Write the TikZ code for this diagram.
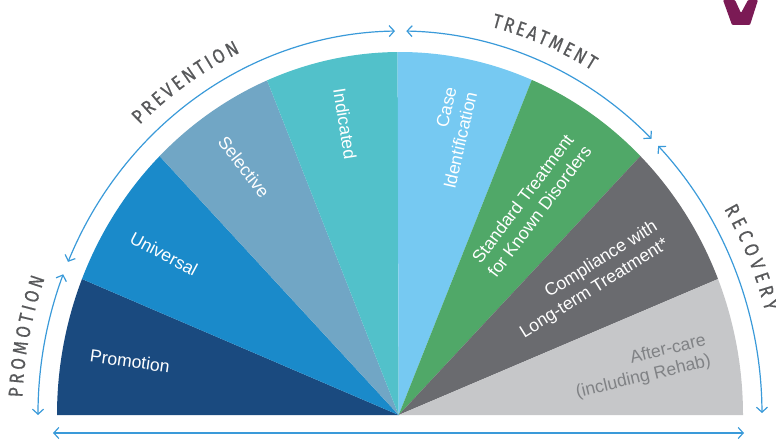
\documentclass[tikz,border=0pt]{standalone}
\usepackage{fontspec}
\setmainfont{Liberation Sans}
\newfontfamily\wordfont[FakeStretch=0.85, FakeBold=0.5]{Fira Sans}
\usetikzlibrary{arrows.meta, decorations.text}

\definecolor{promocol}{HTML}{1A4A7F}
\definecolor{univcol}{HTML}{1A8ACA}
\definecolor{selcol}{HTML}{71A6C5}
\definecolor{indcol}{HTML}{52C1CA}
\definecolor{casecol}{HTML}{76C9F2}
\definecolor{stdcol}{HTML}{50A868}
\definecolor{compcol}{HTML}{6A6B6F}
\definecolor{carecol}{HTML}{C6C7C9}
\definecolor{caretext}{HTML}{808285}
\definecolor{arccol}{HTML}{3A9AD9}
\definecolor{wordcol}{HTML}{58595B}
\definecolor{logocol}{HTML}{7B1A55}

\tikzset{
    slicelabel/.style={text=white, font=\fontsize{17.6}{21}\selectfont},
    spanarrow/.style={<->, >={Straight Barb[length=5pt,width=11pt]}, arccol, line width=1.2pt},
    arcword/.style={decorate, decoration={text along path, text align=fit to path,
        text={|\fontsize{20}{20}\selectfont\wordfont\color{wordcol}|#1}}}
}

\begin{document}
\begin{tikzpicture}[x=1pt, y=1pt]
    \useasboundingbox (0,0) rectangle (776,439);
    \coordinate (O) at (398.7,24);
    \coordinate (W) at (400,24);

    % the slices
    \fill[promocol] (W) ++(180:343 and 363) arc[start angle=180, end angle=158, x radius=343, y radius=363] -- (O) -- cycle;
    \fill[univcol] (W) ++(158:343 and 363) arc[start angle=158, end angle=134.5, x radius=343, y radius=363] -- (O) -- cycle;
    \fill[selcol] (W) ++(134.5:343 and 363) arc[start angle=134.5, end angle=112.8, x radius=343, y radius=363] -- (O) -- cycle;
    \fill[indcol] (W) ++(112.8:343 and 363) arc[start angle=112.8, end angle=90.4, x radius=343, y radius=363] -- (O) -- cycle;
    \fill[casecol] (W) ++(90.4:343 and 363) arc[start angle=90.4, end angle=67.4, x radius=343, y radius=363] -- (O) -- cycle;
    \fill[stdcol] (W) ++(67.4:343 and 363) arc[start angle=67.4, end angle=45.5, x radius=343, y radius=363] -- (O) -- cycle;
    \fill[compcol] (W) ++(45.5:343 and 363) arc[start angle=45.5, end angle=22, x radius=343, y radius=363] -- (O) -- cycle;
    \fill[carecol] (W) ++(22:343 and 363) arc[start angle=22, end angle=0, x radius=343, y radius=363] -- (O) -- cycle;

    % the labels inside
    \node[slicelabel, rotate=-8] (promotion) at (130,78) {Promotion};
    \node[slicelabel, rotate=-28] (universal) at (164,185) {Universal};
    \node[slicelabel, rotate=-52] (selective) at (244,272) {Selective};
    \node[slicelabel, rotate=-81] (indicated) at (345,315) {Indicated};
    \node[slicelabel, rotate=77, align=right] (case) at (450,301) {Case\\Identification};
    \node[slicelabel, rotate=53, align=center] (standard) at (531,234) {Standard Treatment\\for Known Disorders};
    \node[slicelabel, rotate=32, align=right] (compliance) at (589,159) {Compliance with\\Long-term Treatment*};
    \node[slicelabel, rotate=13.5, align=right, text=caretext] (aftercare) at (641,72) {After-care\\(including Rehab)};

    % the span arrows
    \draw[spanarrow] (W) ++(180:362 and 384) arc[start angle=180, end angle=158.5, x radius=362, y radius=384];
    \draw[spanarrow] (W) ++(156.5:362 and 384) arc[start angle=156.5, end angle=90.8, x radius=362, y radius=384];
    \draw[spanarrow] (W) ++(89:362 and 384) arc[start angle=89, end angle=46, x radius=362, y radius=384];
    \draw[spanarrow] (W) ++(44.5:362 and 384) arc[start angle=44.5, end angle=0.3, x radius=362, y radius=384];
    \coordinate (baseL) at (53,6);
    \coordinate (baseR) at (744,6);
    \draw[spanarrow] (baseL) -- (baseR);

    % the words round the outside
    \path[arcword=PROMOTION] (W) ++(177.5:378 and 400) arc[start angle=177.5, end angle=160, x radius=378, y radius=400];
    \path[arcword=PREVENTION] (W) ++(133.5:378 and 400) arc[start angle=133.5, end angle=115, x radius=378, y radius=400];
    \path[arcword=TREATMENT] (W) ++(76:378 and 400) arc[start angle=76, end angle=59.5, x radius=378, y radius=400];
    \path[arcword=RECOVERY] (W) ++(31:378 and 400) arc[start angle=31, end angle=15, x radius=378, y radius=400];

    % cut off logo
    \fill[logocol, rounded corners=1pt] (723,439) -- (732,414) -- (750,414) -- (758,439) -- (748,439) -- (741,426) -- (735,439) -- cycle;
\end{tikzpicture}
\end{document}
